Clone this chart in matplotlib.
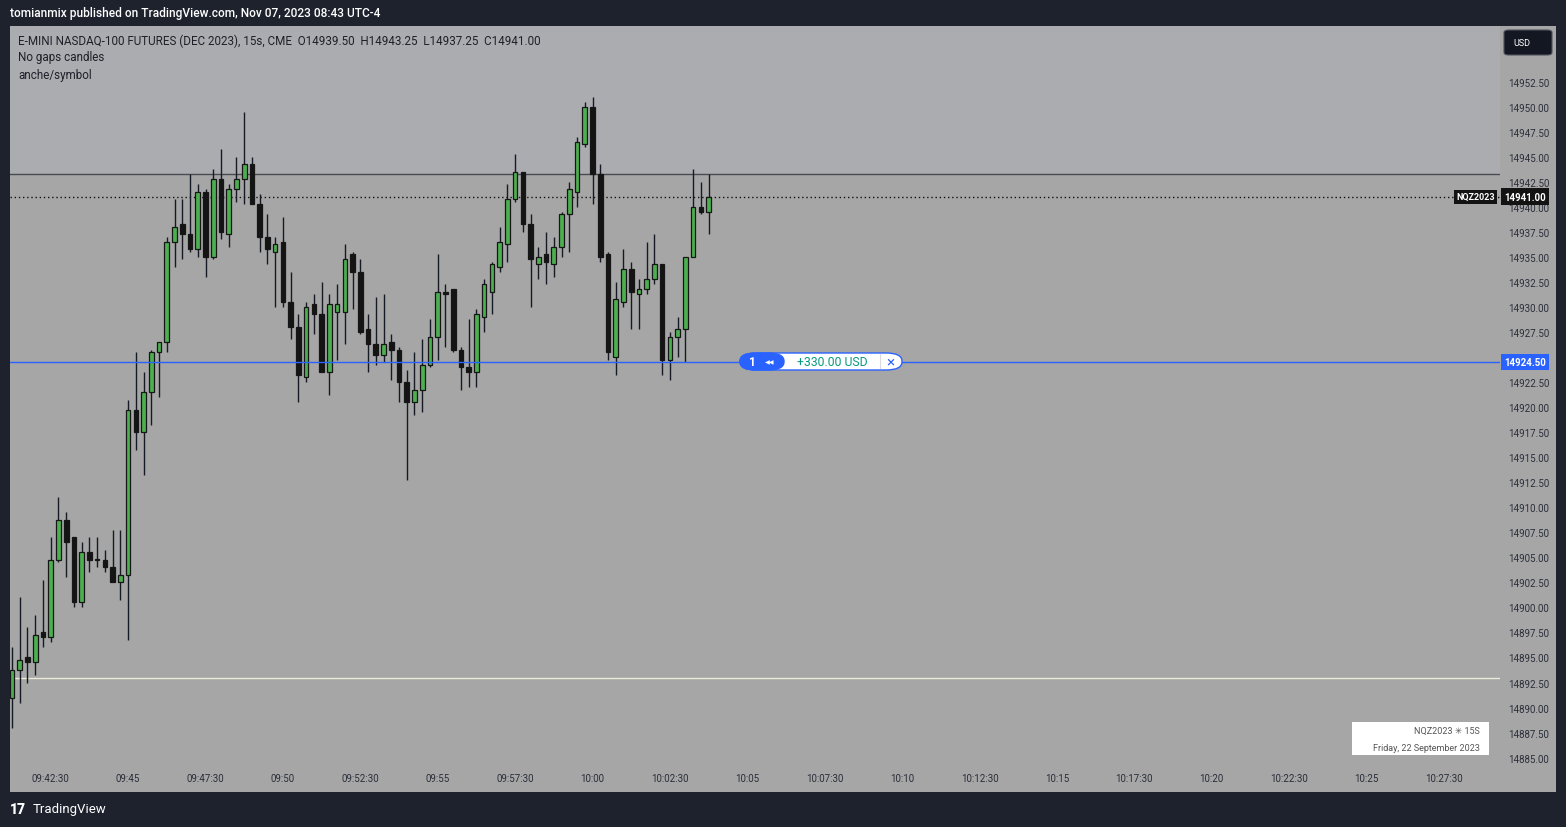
import numpy as np
import matplotlib
matplotlib.use("Agg")
import matplotlib.pyplot as plt
from matplotlib.patches import Rectangle, FancyBboxPatch
from matplotlib.transforms import blended_transform_factory

# candles, 15s, 09:41:15 -> 10:03:45
opens = [14891.0, 14893.75, 14895.0, 14894.5, 14897.5, 14897.0, 14904.75, 14908.75, 14907.0, 14900.5,
         14905.5, 14904.75, 14904.75, 14904.0, 14902.5, 14903.25, 14919.75, 14917.5, 14921.5, 14925.5,
         14926.5, 14936.5, 14938.25, 14937.25, 14935.75, 14941.5, 14935.0, 14942.75, 14937.25, 14941.75,
         14942.75, 14944.25, 14940.25, 14937.0, 14935.5, 14936.5, 14930.5, 14928.0, 14923.0, 14930.25,
         14929.25, 14923.5, 14929.5, 14929.5, 14935.25, 14933.5, 14927.75, 14926.25, 14925.25, 14926.5,
         14925.75, 14922.5, 14920.5, 14921.75, 14924.25, 14927.0, 14931.5, 14931.75, 14925.75, 14924.0,
         14923.5, 14929.0, 14931.5, 14934.0, 14936.25, 14940.75, 14943.5, 14938.25, 14934.25, 14935.25,
         14934.25, 14936.0, 14939.25, 14941.5, 14946.25, 14950.0, 14943.25, 14935.25, 14925.0, 14930.5,
         14933.75, 14931.25, 14931.75, 14932.75, 14934.25, 14924.75, 14927.0, 14927.75, 14935.0, 14940.0,
         14939.5]
highs = [14896.0, 14901.0, 14898.0, 14899.25, 14902.75, 14907.0, 14911.0, 14909.5, 14907.0, 14906.5,
         14907.0, 14907.0, 14905.75, 14907.75, 14907.75, 14920.75, 14925.5, 14923.5, 14925.75, 14926.5,
         14937.0, 14940.75, 14940.75, 14943.25, 14942.25, 14941.75, 14943.75, 14945.75, 14942.25, 14945.0,
         14949.5, 14945.0, 14941.25, 14939.25, 14937.0, 14939.0, 14933.5, 14929.25, 14930.5, 14931.25,
         14932.5, 14931.25, 14932.25, 14936.25, 14935.5, 14934.75, 14929.25, 14931.0, 14931.25, 14927.25,
         14926.0, 14923.75, 14925.5, 14926.75, 14928.75, 14935.25, 14932.25, 14931.75, 14926.0, 14928.75,
         14929.75, 14932.75, 14934.5, 14938.0, 14942.25, 14945.25, 14943.5, 14939.25, 14936.0, 14937.5,
         14937.0, 14939.5, 14942.5, 14947.0, 14950.5, 14951.0, 14944.25, 14935.5, 14932.5, 14935.75,
         14934.5, 14932.75, 14936.5, 14937.25, 14934.25, 14927.5, 14929.0, 14935.0, 14943.75, 14942.5,
         14943.25]
lows = [14888.0, 14890.5, 14892.5, 14893.25, 14896.0, 14896.5, 14904.5, 14903.0, 14900.0, 14900.0,
        14903.5, 14904.0, 14903.5, 14902.5, 14900.75, 14896.75, 14915.75, 14913.25, 14918.25, 14921.0,
        14925.5, 14934.0, 14934.75, 14935.5, 14935.0, 14933.0, 14934.75, 14936.75, 14936.0, 14940.5,
        14940.25, 14940.25, 14935.5, 14934.25, 14930.0, 14930.0, 14926.75, 14920.5, 14922.5, 14927.25,
        14923.5, 14921.25, 14924.75, 14926.25, 14929.75, 14927.25, 14923.5, 14924.25, 14924.5, 14922.75,
        14920.5, 14912.75, 14919.25, 14919.5, 14924.0, 14924.75, 14926.0, 14925.5, 14921.75, 14922.0,
        14922.0, 14927.5, 14929.25, 14933.5, 14934.5, 14940.5, 14937.5, 14930.0, 14932.75, 14932.25,
        14933.0, 14935.0, 14935.5, 14940.0, 14946.0, 14940.25, 14934.5, 14924.75, 14923.25, 14930.0,
        14927.75, 14927.75, 14931.25, 14932.25, 14923.25, 14922.75, 14925.0, 14924.5, 14935.0, 14939.25,
        14937.25]
closes = [14893.75, 14894.75, 14894.5, 14897.25, 14897.0, 14904.75, 14908.75, 14906.5, 14900.5, 14905.5,
          14904.75, 14904.75, 14904.0, 14902.5, 14903.25, 14919.75, 14917.5, 14921.5, 14925.5, 14926.5,
          14936.5, 14938.0, 14937.25, 14935.75, 14941.5, 14935.0, 14942.75, 14937.5, 14941.75, 14942.75,
          14944.25, 14940.25, 14937.0, 14935.75, 14936.25, 14930.5, 14928.0, 14923.25, 14930.0, 14929.25,
          14923.5, 14930.25, 14930.25, 14934.75, 14933.5, 14927.5, 14926.25, 14925.25, 14926.25, 14925.75,
          14922.5, 14920.5, 14921.75, 14924.25, 14927.0, 14931.5, 14931.25, 14925.75, 14924.0, 14923.5,
          14929.25, 14932.25, 14934.25, 14936.5, 14940.75, 14943.5, 14938.25, 14934.75, 14935.0, 14934.5,
          14936.0, 14939.25, 14941.75, 14946.5, 14950.0, 14943.25, 14935.0, 14925.5, 14930.75, 14933.75,
          14931.5, 14931.75, 14932.75, 14934.25, 14924.75, 14927.0, 14927.75, 14935.0, 14940.0, 14939.5,
          14941.0]

time_ticks = [5, 15, 25, 35, 45, 55, 65, 75, 85, 95, 105, 115, 125, 135, 145, 155, 165, 175, 185]
time_labels = ["09:42:30", "09:45", "09:47:30", "09:50", "09:52:30", "09:55", "09:57:30", "10:00",
               "10:02:30", "10:05", "10:07:30", "10:10", "10:12:30", "10:15", "10:17:30", "10:20",
               "10:22:30", "10:25", "10:27:30"]
price_ticks = [14885.0 + 2.5 * k for k in range(28)]

last_price = 14941.00
entry_price = 14924.50
top_line = 14943.25
low_line = 14893.00

W, H = 1566, 828
def fx(x):
    return x / W
def fy(y):
    return 1 - y / H

plt.rcParams['font.family'] = ['Roboto', 'DejaVu Sans']

fig = plt.figure(figsize=(15.66, 8.28), dpi=100, facecolor='#1e222d')
fig.patches.append(Rectangle((fx(10), fy(793)), fx(1546), 766 / H, transform=fig.transFigure,
                             facecolor='#a6a6a6', edgecolor='none', zorder=-1))

ax = fig.add_axes([fx(10), fy(793), 1490 / W, 766 / H])
ax.set_zorder(1)
ax.set_facecolor('#a6a6a6')
ax.set_xlim(-0.26, 192.25)
ax.set_ylim(14881.57, 14958.05)
for s in ax.spines.values():
    s.set_visible(False)

ax.axhspan(top_line, 14958.05, color='#abacb0', zorder=0)

x = np.arange(len(opens))
o = np.array(opens); c = np.array(closes)
up = c > o
colors = np.where(up, '#4caf50', '#141414')
ax.vlines(x, lows, highs, color='#161a25', linewidth=1, zorder=2)
ax.bar(x, np.maximum(np.abs(c - o), 0.06), bottom=np.minimum(o, c), width=0.6,
       color=colors, edgecolor='#161616', linewidth=0.9, zorder=3)

ax.axhline(top_line, color='#4a4b50', linewidth=1, zorder=1)
ax.axhline(last_price, color='#111111', linewidth=1, linestyle=(0, (1, 2)), zorder=1)
ax.axhline(entry_price, color='#2962ff', linewidth=1, zorder=4)
ax.axhline(low_line, color='#ecebd8', linewidth=1, zorder=1)

ax.set_xticks(time_ticks)
ax.set_xticklabels(time_labels)
ax.tick_params(axis='x', direction='in', length=0, pad=-13.5, labelsize=7, labelcolor='#2a2e39')
ax.yaxis.tick_right()
ax.set_yticks(price_ticks)
ax.set_yticklabels([f"{p:.2f}" for p in price_ticks])
ax.tick_params(axis='y', length=0, pad=6, labelsize=7, labelcolor='#2a2e39')

tr = blended_transform_factory(ax.transAxes, ax.transData)
ax.text(0.9966, last_price, "NQZ2023", transform=tr, ha='right', va='center', fontsize=6.5,
        fontweight='bold', color='white', zorder=6,
        bbox=dict(boxstyle='square,pad=0.25', facecolor='#131313', edgecolor='none'))
ax.text(1.0168, last_price, "14941.00", transform=tr, ha='center', va='center', fontsize=7,
        fontweight='bold', color='white', clip_on=False, zorder=6,
        bbox=dict(boxstyle='square,pad=0.35', facecolor='#131313', edgecolor='none'))
ax.text(1.0168, entry_price, "14924.50", transform=tr, ha='center', va='center', fontsize=7,
        fontweight='bold', color='white', clip_on=False, zorder=6,
        bbox=dict(boxstyle='square,pad=0.35', facecolor='#2962ff', edgecolor='none'))

# position pill
fig.patches.append(FancyBboxPatch((fx(740), fy(371)), fx(162), 17 / H, transform=fig.transFigure,
                                  boxstyle='round,pad=0,rounding_size=0.01', facecolor='white',
                                  edgecolor='#2962ff', linewidth=1, zorder=5))
fig.patches.append(FancyBboxPatch((fx(740), fy(371)), fx(44), 17 / H, transform=fig.transFigure,
                                  boxstyle='round,pad=0,rounding_size=0.01', facecolor='#2962ff',
                                  edgecolor='#2962ff', linewidth=1, zorder=6))
fig.text(fx(752), fy(362.5), "1", color='white', fontsize=8.5, fontweight='bold', ha='center', va='center', zorder=7)
fig.text(fx(770), fy(362.5), "\u25c0\u25c0", color='white', fontsize=4.5, ha='center', va='center',
         family=['DejaVu Sans'], zorder=7)
fig.text(fx(832), fy(362.5), "+330.00 USD", color='#089981', fontsize=8.8, ha='center', va='center', zorder=7)
fig.lines.append(plt.Line2D([fx(880), fx(880)], [fy(355), fy(369)], transform=fig.transFigure,
                            color='#d8dae0', linewidth=0.8, zorder=7))
fig.text(fx(890), fy(362.5), "\u00d7", color='#2962ff', fontsize=11, ha='center', va='center', zorder=7)

# header texts
fig.text(fx(10), fy(14), "tomianmix published on TradingView.com, Nov 07, 2023 08:43 UTC-4",
         color='white', fontsize=8.6, fontweight='medium', va='center')
fig.text(fx(18), fy(41), "E-MINI NASDAQ-100 FUTURES (DEC 2023), 15s, CME  O14939.50  H14943.25  L14937.25  C14941.00",
         color='#1e2029', fontsize=8.4, va='center', zorder=3)
fig.text(fx(18), fy(58), "No gaps candles", color='#1e2029', fontsize=8.4, va='center', zorder=3)
fig.text(fx(18), fy(75), "anche/symbol", color='#1e2029', fontsize=8.4, va='center', zorder=3)

# USD button
fig.patches.append(FancyBboxPatch((fx(1504), fy(56)), fx(48), 25 / H, transform=fig.transFigure,
                                  boxstyle='round,pad=0,rounding_size=0.003', facecolor='#131722',
                                  edgecolor='#50535e', linewidth=0.8, zorder=5))
fig.text(fx(1513), fy(44), "USD", color='white', fontsize=6.5, va='center', zorder=6)

# info box bottom right
fig.patches.append(Rectangle((fx(1352), fy(756)), fx(137), 33 / H, transform=fig.transFigure,
                             facecolor='white', edgecolor='none', zorder=5))
fig.text(fx(1480), fy(731), "NQZ2023 \u2733 15S", color='#555555', fontsize=6.5, ha='right',
         va='center', family=['Roboto', 'DejaVu Sans'], zorder=6)
fig.text(fx(1480), fy(749), "Friday, 22 September 2023", color='#555555', fontsize=6.5, ha='right',
         va='center', zorder=6)

# footer logo
fig.text(fx(10), fy(810), "17", color='white', fontsize=10, fontweight='black', va='center')
fig.text(fx(33), fy(810), "TradingView", color='white', fontsize=9.5, va='center')

fig.savefig("out.png", dpi=100, facecolor=fig.get_facecolor())
